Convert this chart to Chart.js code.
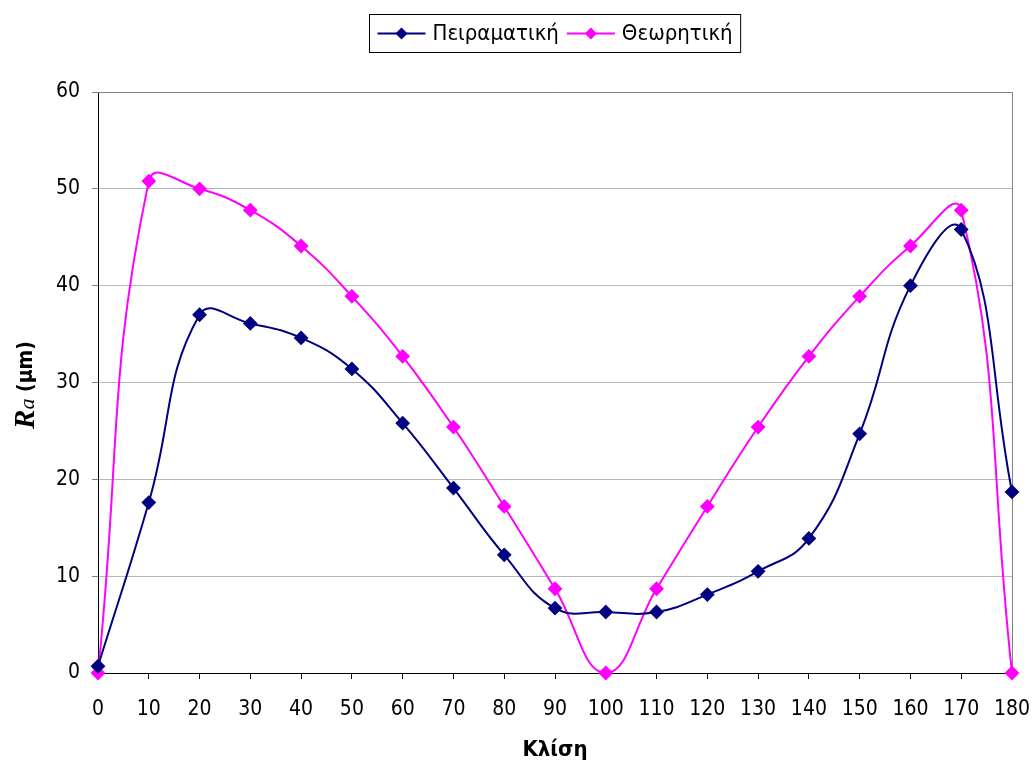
<!DOCTYPE html>
<html>
<head>
<meta charset="utf-8">
<script src="https://cdn.jsdelivr.net/npm/chart.js@4/dist/chart.umd.min.js"></script>
<style>
  html, body { margin: 0; padding: 0; background: #fff; }
  #wrap { width: 1035px; height: 764px; }
</style>
</head>
<body>
<div id="wrap"><canvas id="raChart" width="1035" height="764"></canvas></div>
<script>
// κλίση (μοίρες)
const angles = [0, 10, 20, 30, 40, 50, 60, 70, 80, 90, 100, 110, 120, 130, 140, 150, 160, 170, 180];
// πειραματικές τιμές Ra
const experimental = [0.7, 17.6, 37.0, 36.1, 34.6, 31.4, 25.8, 19.1, 12.2, 6.7, 6.3, 6.3, 8.1, 10.5, 13.9, 24.7, 40.0, 45.8, 18.7];
// θεωρητικές τιμές Ra
const theoretical = [0, 50.8, 50.0, 47.8, 44.1, 38.9, 32.7, 25.4, 17.2, 8.7, 0, 8.7, 17.2, 25.4, 32.7, 38.9, 44.1, 47.8, 0];
const seriesNames = ['Πειραματική', 'Θεωρητική'];
const yTicks = [0, 10, 20, 30, 40, 50, 60];

const FONT = '"DejaVu Sans Condensed", "DejaVu Sans"';

const toPoints = (vals) => angles.map((a, i) => ({ x: a, y: vals[i] }));

// legend, axis titles and frame drawn by hand
const extras = {
    id: 'extras',
    beforeDatasetsDraw(chart) {
        const { ctx, chartArea: a } = chart;
        ctx.save();
        ctx.strokeStyle = '#808080';
        ctx.lineWidth = 1;
        ctx.beginPath();
        ctx.moveTo(a.left, a.top + 0.5);
        ctx.lineTo(a.right + 0.5, a.top + 0.5);
        ctx.lineTo(a.right + 0.5, a.bottom);
        ctx.stroke();
        ctx.restore();
    },
    afterDraw(chart) {
        const { ctx, chartArea: a } = chart;
        ctx.save();

        // legend
        ctx.font = `22px ${FONT}`;
        const lineLen = 48, gap = 7, itemGap = 8, padX = 8;
        const items = chart.data.datasets.map(ds => ({
            label: ds.label, color: ds.borderColor, w: ctx.measureText(ds.label).width
        }));
        let total = padX * 2;
        items.forEach((it, i) => { total += lineLen + gap + it.w + (i ? itemGap : 0); });
        const cx = (a.left + a.right) / 2;
        const bx = Math.round(cx - total / 2) + 0.5, by = 14.5, bh = 38;
        ctx.strokeStyle = '#000';
        ctx.lineWidth = 1;
        ctx.strokeRect(bx, by, total, bh);
        let x = bx + padX;
        const my = by + bh / 2;
        items.forEach((it, i) => {
            if (i) x += itemGap;
            ctx.strokeStyle = it.color;
            ctx.lineWidth = 2;
            ctx.beginPath();
            ctx.moveTo(x, my);
            ctx.lineTo(x + lineLen, my);
            ctx.stroke();
            ctx.fillStyle = it.color;
            const d = 6, mx = x + lineLen / 2;
            ctx.beginPath();
            ctx.moveTo(mx, my - d); ctx.lineTo(mx + d, my); ctx.lineTo(mx, my + d); ctx.lineTo(mx - d, my);
            ctx.closePath();
            ctx.fill();
            x += lineLen + gap;
            ctx.fillStyle = '#000';
            ctx.textBaseline = 'middle';
            ctx.textAlign = 'left';
            ctx.fillText(it.label, x, my + 1);
            x += it.w;
        });

        // x title
        ctx.fillStyle = '#000';
        ctx.font = `bold 22px ${FONT}`;
        ctx.textAlign = 'center';
        ctx.textBaseline = 'alphabetic';
        ctx.fillText('Κλίση', cx, 756);

        // y title: R_a (μm)
        ctx.translate(25, 385);
        ctx.rotate(-Math.PI / 2);
        const fR = 'italic bold 29px "Liberation Serif"';
        const fa = 'italic 22px "Liberation Serif"';
        const fu = `bold 21px ${FONT}`;
        const unit = ' (μm)';
        ctx.font = fR; const wR = ctx.measureText('R').width;
        ctx.font = fa; const wa = ctx.measureText('a').width;
        ctx.font = fu; const wu = ctx.measureText(unit).width;
        let tx = -(wR + wa + wu) / 2;
        ctx.textAlign = 'left';
        ctx.textBaseline = 'alphabetic';
        ctx.font = fR; ctx.fillText('R', tx, 9); tx += wR;
        ctx.font = fa; ctx.fillText('a', tx, 9); tx += wa;
        ctx.font = fu; ctx.fillText(unit, tx, 7);
        ctx.restore();
    }
};

const mkSet = (label, vals, color) => ({
    label: label,
    data: toPoints(vals),
    borderColor: color,
    backgroundColor: color,
    borderWidth: 2,
    pointStyle: 'rectRot',
    pointRadius: 6,
    pointHoverRadius: 6,
    tension: 0.45,
    clip: false
});

new Chart(document.getElementById('raChart'), {
    type: 'line',
    data: {
        datasets: [
            mkSet(seriesNames[0], experimental, '#000080'),
            mkSet(seriesNames[1], theoretical, '#ff00ff')
        ]
    },
    options: {
        responsive: false,
        animation: false,
        layout: { padding: { top: 92, right: 23, left: 0, bottom: 0 } },
        plugins: { legend: { display: false }, tooltip: { enabled: false } },
        scales: {
            x: {
                type: 'linear',
                min: 0, max: 180,
                afterFit: (s) => { s.height = 91; s.paddingLeft = 0; s.paddingRight = 0; },
                afterBuildTicks: (s) => { s.ticks = angles.map(v => ({ value: v })); },
                grid: { drawOnChartArea: false, tickLength: 6, color: '#000', tickColor: '#000' },
                border: { color: '#000', width: 1 },
                ticks: { color: '#000', font: { family: FONT, size: 21 }, padding: 18, maxRotation: 0, autoSkip: false }
            },
            y: {
                min: 0, max: 60,
                afterFit: (s) => { s.width = 98; s.paddingTop = 0; s.paddingBottom = 0; },
                afterBuildTicks: (s) => { s.ticks = yTicks.map(v => ({ value: v })); },
                grid: { color: '#b8b8b8', tickLength: 6, tickColor: '#808080' },
                border: { color: '#000', width: 1 },
                ticks: { color: '#000', font: { family: FONT, size: 21 }, padding: 12 }
            }
        }
    },
    plugins: [extras]
});
</script>
</body>
</html>
